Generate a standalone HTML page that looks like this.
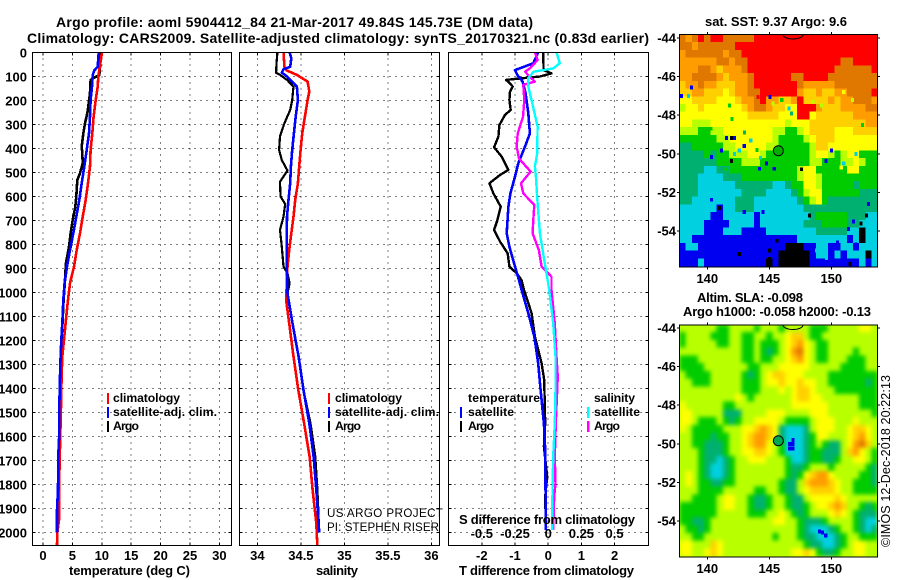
<!DOCTYPE html>
<html>
<head>
<meta charset="utf-8">
<title>Argo profile</title>
<style>
html,body{margin:0;padding:0;background:#fff;}
svg{display:block;}
text{font-family:"Liberation Sans",sans-serif;font-weight:bold;font-size:13px;fill:#000;}
.leg{font-size:12.2px;}
.reg{font-weight:normal;font-size:11.6px;}
</style>
</head>
<body>
<svg id="figure" xmlns="http://www.w3.org/2000/svg" width="900" height="580" viewBox="0 0 900 580">
<defs>
<filter id="sla-smooth" filterUnits="userSpaceOnUse" x="660" y="300" width="240" height="280" color-interpolation-filters="sRGB"><feGaussianBlur stdDeviation="2"/></filter>
</defs>
<rect x="0" y="0" width="900" height="580" fill="#fff"/>
<g id="layer-plots"></g>
<text x="56" y="27" textLength="477" lengthAdjust="spacing" style="font-size:14px">Argo profile: aoml 5904412_84 21-Mar-2017 49.84S 145.73E (DM data)</text>
<text x="27" y="43" textLength="622" lengthAdjust="spacing" style="font-size:14px">Climatology: CARS2009. Satellite-adjusted climatology: synTS_20170321.nc (0.83d earlier)</text>
<text x="69" y="575" textLength="121" lengthAdjust="spacing">temperature (deg C)</text>
<text x="316" y="575" textLength="42" lengthAdjust="spacing">salinity</text>
<text x="459" y="575" textLength="175" lengthAdjust="spacing">T difference from climatology</text>
<text x="459" y="524" textLength="176" lengthAdjust="spacing">S difference from climatology</text>
<g>
<rect x="107" y="393" width="2" height="11" fill="#ff0000"/>
<rect x="107" y="407" width="2" height="11" fill="#0000ff"/>
<rect x="107" y="421" width="2" height="11" fill="#000"/>
<text class="leg" x="113" y="402" textLength="67" lengthAdjust="spacing">climatology</text>
<text class="leg" x="113" y="416" textLength="104" lengthAdjust="spacing">satellite-adj. clim.</text>
<text class="leg" x="113" y="430" textLength="26" lengthAdjust="spacing">Argo</text>
</g>
<g>
<rect x="328" y="393" width="2" height="11" fill="#ff0000"/>
<rect x="328" y="407" width="2" height="11" fill="#0000ff"/>
<rect x="328" y="421" width="2" height="11" fill="#000"/>
<text class="leg" x="335" y="402" textLength="67" lengthAdjust="spacing">climatology</text>
<text class="leg" x="335" y="416" textLength="104" lengthAdjust="spacing">satellite-adj. clim.</text>
<text class="leg" x="335" y="430" textLength="26" lengthAdjust="spacing">Argo</text>
</g>
<g>
<text class="leg" x="468" y="402" textLength="72" lengthAdjust="spacing">temperature</text>
<rect x="460" y="407" width="2" height="11" fill="#0000ff"/>
<text class="leg" x="468" y="416" textLength="46" lengthAdjust="spacing">satellite</text>
<rect x="460" y="421" width="2" height="11" fill="#000"/>
<text class="leg" x="468" y="430" textLength="26" lengthAdjust="spacing">Argo</text>
<text class="leg" x="594" y="402" textLength="41" lengthAdjust="spacing">salinity</text>
<rect x="587" y="407" width="2.5" height="11" fill="#00ffff"/>
<text class="leg" x="594" y="416" textLength="46" lengthAdjust="spacing">satellite</text>
<rect x="587" y="421" width="2.5" height="11" fill="#ff00ff"/>
<text class="leg" x="594" y="430" textLength="26" lengthAdjust="spacing">Argo</text>
</g>
<text class="reg" x="327" y="517" textLength="116" lengthAdjust="spacing">US ARGO PROJECT</text>
<text class="reg" x="327" y="531" textLength="112" lengthAdjust="spacing">PI: STEPHEN RISER</text>
<text x="705" y="26" textLength="142" lengthAdjust="spacing">sat. SST: 9.37 Argo: 9.6</text>
<text x="697" y="302" textLength="106" lengthAdjust="spacing">Altim. SLA: -0.098</text>
<text x="683" y="316" textLength="188" lengthAdjust="spacing">Argo h1000: -0.058 h2000: -0.13</text>
<text class="reg" transform="translate(890 547) rotate(-90)" x="0" y="0" textLength="172" lengthAdjust="spacing" style="font-size:12.5px">©IMOS 12-Dec-2018 20:22:13</text>
</svg>
<script>
// ---------- profile data ----------
const depthTicks = [0,100,200,300,400,500,600,700,800,900,1000,1100,1200,1300,1400,1500,1600,1700,1800,1900,2000];
const tempTicks = [0,5,10,15,20,25,30];
const salTicks = [34,34.5,35,35.5,36];
const salTickLabels = ['34','34.5','35','35.5','36'];
const diffTicks = [-2,-1,0,1,2];
const sDiffTicks = [-0.5,-0.25,0,0.25,0.5];
const sDiffLabels = ['-0.5','-0.25','0','0.25','0.5'];

const tempArgoDepth = [0,60,95,104,115,170,212,254,296,338,393,421,462,504,532,601,643,699,754,810,879,962,1032,1129,1198,1268,1351,1476,1587,1677,1823,1907,2000];
const tempArgo = [9.86,9.7,9.58,8.84,8.1,8.0,7.77,7.54,7.14,6.86,6.58,6.69,6.75,6.29,5.84,5.67,5.5,5.05,4.7,4.42,3.9,3.7,3.5,3.32,3.15,3.05,2.95,2.85,2.8,2.72,2.65,2.45,2.42];
const tempSatDepth = [0,60,76,95,143,199,268,338,407,476,546,615,685,754,824,893,962,1032,1129,1198,1268,1351,1476,1587,1677,1823,1907,2001];
const tempSat = [9.47,9.3,8.73,8.45,8.33,8.1,8.0,7.82,7.43,7.03,6.58,6.18,5.67,5.16,4.59,4.08,3.68,3.46,3.29,3.12,3.0,2.89,2.78,2.78,2.6,2.55,2.38,2.38];
const tempClimDepth = [0,101,143,199,268,338,407,476,546,615,685,754,824,893,962,1032,1059,1129,1198,1268,1351,1476,1642,1823,1948,2003,2052];
const tempClim = [10.03,9.41,9.3,8.96,8.6,8.39,8.1,8.0,7.65,7.26,6.75,6.29,5.73,5.27,4.6,4.25,4.14,3.85,3.57,3.29,3.17,3.06,2.89,2.72,2.72,2.44,2.38];

const salArgoDepth = [0,46,85,94,115,143,199,240,296,351,407,449,493,539,601,632,685,740,810,893,921,962,1004,1129,1268,1407,1546,1684,1823,1907,2000];
const salArgo = [34.23,34.22,34.215,34.26,34.34,34.415,34.4,34.377,34.31,34.26,34.25,34.28,34.346,34.26,34.265,34.32,34.3,34.26,34.28,34.3,34.346,34.37,34.346,34.404,34.473,34.53,34.61,34.665,34.69,34.7,34.71];
const salSatDepth = [0,25,60,71,85,101,143,199,268,338,407,476,546,615,685,754,893,1004,1129,1268,1407,1546,1684,1823,2000];
const salSat = [34.37,34.39,34.377,34.3,34.28,34.34,34.454,34.465,34.44,34.42,34.4,34.385,34.377,34.358,34.34,34.338,34.338,34.346,34.404,34.473,34.53,34.596,34.646,34.677,34.71];
const salClimDepth = [0,60,76,94,122,163,199,268,338,407,476,546,615,685,754,824,893,962,1032,1129,1268,1407,1546,1684,1823,1962,2052];
const salClim = [34.3,34.31,34.338,34.454,34.577,34.596,34.577,34.546,34.515,34.496,34.48,34.465,34.435,34.415,34.39,34.365,34.346,34.338,34.33,34.365,34.415,34.47,34.537,34.6,34.635,34.677,34.688];

const tDiffArgoDepth = [0,74,88,101,115,129,143,164,199,240,261,303,351,396,435,490,511,546,588,643,699,740,789,838,893,921,949,990,1087,1184,1296,1365,1546,1643,1768,1851,1990];
const tDiffArgo = [-0.15,-0.14,0.1,-0.25,-1.27,-1.15,-1.07,-1.15,-1.17,-1.13,-1.3,-1.47,-1.5,-1.63,-1.4,-1.2,-1.45,-1.77,-1.65,-1.43,-1.53,-1.63,-1.45,-1.22,-1.17,-0.95,-0.8,-0.73,-0.5,-0.4,-0.2,-0.12,-0.09,-0.13,-0.03,-0.09,-0.07];
const tDiffSatDepth = [0,46,74,94,122,171,254,338,393,463,518,588,643,754,810,893,949,990,1087,1184,1296,1407,1546,1657,1990];
const tDiffSat = [-0.3,-0.45,-1.0,-0.93,-0.77,-0.68,-0.6,-0.55,-0.7,-0.9,-1.0,-1.14,-1.2,-1.25,-1.17,-1.0,-0.88,-0.8,-0.6,-0.42,-0.3,-0.23,-0.13,-0.09,-0.07];
const sDiffSatDepth = [0,46,67,81,108,143,213,310,421,476,518,629,754,865,963,990,1129,1268,1407,1546,1684,1823,1990];
const sDiffSat = [0.0625,0.0875,0.0375,-0.11,-0.15,-0.15,-0.12,-0.08,-0.0825,-0.1,-0.0925,-0.08,-0.0625,-0.03,0,0.0075,0.0375,0.055,0.055,0.05,0.0375,0.0325,0.03];
const sDiffArgoDepth = [0,32,67,81,101,122,136,199,269,338,393,443,497,546,588,636,699,754,825,893,935,990,1129,1268,1351,1546,1684,1796,1851,1990];
const sDiffArgo = [-0.1,-0.08,-0.1375,-0.175,-0.14,-0.1,-0.1875,-0.18,-0.19,-0.23,-0.2375,-0.22,-0.1325,-0.205,-0.1875,-0.105,-0.1125,-0.1175,-0.07,-0.05,0.025,0.025,0.05,0.0625,0.0725,0.0575,0.05,0.055,0.045,0.0375];

// ---------- map data (colour class per cell: 0 black ... 10 red) ----------
const mapLonTicks = [140,145,150];
const mapLatTicks = [-44,-46,-48,-50,-52,-54];
const argoLon = [145.73];
const argoLat = [-49.84];
const sstGrid = [
[9,8,9,10,9,10,10,9,9,9,9,9,10,10,10,10,10,10,10,10,10,10,10,10,10,10,10,10,10,10,10,10],
[9,9,8,9,9,9,9,9,9,10,10,10,10,10,10,10,10,10,10,10,10,10,10,10,10,10,10,10,10,10,10,10],
[8,9,9,9,9,9,9,8,9,9,10,10,10,10,10,10,10,10,10,10,10,10,10,10,10,10,10,10,10,10,10,10],
[8,8,8,8,8,8,9,9,8,9,9,10,10,10,10,10,10,10,10,10,10,10,10,10,10,10,9,9,10,10,10,10],
[8,8,8,9,9,8,7,8,8,8,9,10,10,10,10,10,10,10,10,10,10,10,10,10,10,9,9,9,9,9,9,10],
[8,8,9,9,9,9,8,7,8,8,8,9,10,10,10,10,10,10,9,9,10,10,10,10,9,9,9,9,9,9,9,9],
[7,8,8,9,8,8,7,7,7,8,8,9,10,10,10,10,10,10,10,9,8,8,8,8,8,9,9,9,9,9,9,9],
[7,7,8,8,7,7,7,6,7,8,8,9,9,10,10,10,10,10,10,8,7,7,8,7,7,8,8,9,9,9,9,10],
[6,6,7,7,7,7,6,6,6,7,8,8,9,10,8,8,7,7,8,10,7,7,7,7,8,7,8,8,9,9,9,8],
[5,6,6,7,6,6,6,6,6,6,7,8,9,9,8,7,7,6,6,10,10,10,8,7,7,7,8,8,8,8,9,9],
[6,6,6,6,6,6,6,6,6,6,6,7,7,7,7,7,6,6,6,10,10,6,7,7,7,7,7,7,8,8,8,8],
[6,6,5,5,5,6,6,6,6,6,6,6,6,6,6,6,6,5,6,6,6,7,7,7,7,7,7,7,7,7,8,8],
[5,5,5,4,4,5,5,6,6,6,6,6,6,6,6,5,5,4,4,5,6,7,7,7,7,6,6,6,7,7,7,7],
[4,4,4,4,4,4,5,5,6,6,6,6,6,6,6,5,4,4,4,4,5,6,7,7,7,6,6,6,6,6,6,6],
[3,3,4,4,4,4,4,5,5,6,6,6,6,6,5,5,4,4,4,4,4,5,7,7,6,6,6,6,6,6,6,6],
[3,3,3,3,4,3,4,4,5,5,5,6,6,5,4,4,4,4,4,4,4,5,6,6,5,4,5,6,6,4,4,4],
[3,3,3,3,3,3,4,4,4,4,5,5,5,4,4,4,4,4,4,4,4,5,5,4,4,4,5,5,6,5,4,4],
[3,3,3,3,2,2,3,3,4,4,4,4,4,4,4,4,4,4,4,5,6,6,4,4,4,4,4,6,6,4,4,4],
[3,3,3,2,2,2,2,3,3,3,4,4,4,4,4,4,4,4,4,5,6,6,5,4,4,4,4,4,4,4,4,4],
[3,3,3,2,2,2,2,2,2,3,3,3,3,3,3,2,2,3,4,4,6,6,5,4,4,4,4,4,3,4,4,4],
[3,3,3,2,2,2,2,2,2,2,3,3,3,3,2,2,2,2,3,4,5,6,6,4,4,4,4,4,4,3,3,3],
[3,3,2,2,2,2,2,2,2,3,3,3,2,2,2,2,2,2,2,3,4,5,6,4,3,3,3,3,3,3,3,3],
[2,2,2,2,2,2,1,2,2,3,3,3,2,2,2,2,2,2,2,2,3,3,3,3,3,3,3,3,3,3,3,3],
[2,2,2,2,2,1,1,2,2,2,2,2,1,2,2,2,2,2,2,2,2,3,4,4,4,4,4,3,3,3,2,2],
[2,2,2,2,1,1,1,1,2,2,2,2,1,2,2,2,2,2,2,2,3,3,3,4,4,4,4,3,3,2,2,2],
[2,2,2,2,1,1,1,2,2,2,1,1,1,1,2,2,2,2,2,2,2,2,3,3,3,3,3,2,2,0,2,2],
[2,2,1,1,1,1,1,1,1,1,1,1,1,1,1,1,1,1,1,2,2,2,2,2,2,2,2,1,2,0,2,2],
[1,2,2,1,1,1,1,1,1,1,1,1,1,1,1,1,1,0,0,0,1,1,2,2,1,1,2,2,1,2,2,2],
[1,1,1,1,1,1,1,1,1,1,1,1,1,1,1,1,0,0,0,0,0,1,2,2,1,2,1,2,2,2,0,2],
[1,1,1,2,1,1,1,1,1,1,1,1,1,1,0,1,0,0,0,0,0,1,1,1,1,1,1,1,1,2,1,2]
];
const sstSpeckleLon = [141.96,142.2,141.56,141.16,140.35,141.96,142.58,142.98,144.2,145.4,144.78,147.6,150.03,149.57,138.74,137.93,138.47,145.05,140.97,140.35,144.5,142.98,148.23,152.85,152.39,142.58,145,145,145.6,146.6,144.1,144.5,139.5,140.3,142,141.8,143,143.5,144,144.3,142.2,141.5,146.8,145.3,146,148.5,149.2,151,151.7,152.5,152,151,150.8,153,151.8,151.4,149,150.5,148.8,152,149.6,139.8,151.5];
const sstSpeckleLat = [-49.18,-49.18,-49.18,-49.82,-50.16,-50.37,-49.82,-49.6,-50.77,-50.77,-50.5,-50.8,-49.82,-50.37,-46.56,-47,-47,-47.05,-52.8,-52.38,-53.02,-53.02,-53.2,-53.2,-53.6,-55.19,-55,-55.45,-54.5,-47.65,-47.05,-47.1,-49,-48.7,-48.2,-47.5,-48.9,-49.3,-49.8,-50.2,-50,-50.8,-47.9,-47.4,-47.2,-47.3,-47.5,-46.8,-47.2,-48.5,-50,-50.5,-50.7,-52.6,-53.5,-53.9,-53.8,-54.6,-55,-54.7,-55.4,-55.2,-55.7];
const sstSpeckleClass = [0,1,1,1,1,0,2,1,1,1,1,0,1,1,1,1,2,1,0,1,1,1,0,0,0,0,0,0,0,2,10,10,4,4,4,4,3,2,4,2,2,4,3,5,4,5,5,6,5,4,2,2,6,1,1,1,3,1,2,1,2,1,0];
const slaGrid = [
[5,5,5,5,5,5,4,4,5,5,5,5,4,5,5,5,4,5,5,5,5,4,4,4,5,5,5,5,5,6,6,5],
[4,5,5,5,5,4,4,4,5,5,4,4,5,5,4,5,5,6,7,7,5,4,4,5,5,5,5,5,5,5,5,5],
[4,5,5,5,5,5,4,4,5,5,4,4,5,4,4,4,5,6,7,8,6,5,4,4,5,5,5,5,5,5,5,5],
[5,5,5,5,5,5,5,5,5,5,4,4,5,4,3,4,5,6,8,9,6,5,4,4,5,5,5,5,4,5,5,5],
[4,4,4,5,5,5,5,5,5,5,4,4,5,4,4,5,5,6,7,8,6,5,4,4,5,5,5,4,4,4,5,5],
[4,4,4,4,5,5,5,5,5,5,5,4,4,5,5,5,6,6,6,6,6,5,5,5,5,5,4,4,4,4,5,5],
[5,4,4,4,4,5,5,5,5,5,4,3,4,5,6,7,7,6,6,6,5,5,5,5,4,4,4,4,4,4,4,4],
[5,5,4,4,4,5,5,5,5,5,4,4,4,5,6,6,7,6,6,7,6,6,5,5,4,4,4,4,4,4,3,4],
[5,5,5,5,5,5,5,5,5,5,4,4,4,5,5,5,6,5,6,7,7,6,5,5,5,4,4,4,4,4,4,4],
[5,5,5,5,5,5,5,5,5,6,5,4,5,5,5,5,5,5,6,7,7,6,6,5,5,5,5,5,5,4,4,4],
[6,5,5,5,5,5,5,4,4,5,5,5,5,5,5,5,5,5,6,6,6,6,6,6,5,5,5,5,5,4,4,4],
[6,6,5,5,5,5,5,3,3,3,5,5,5,5,6,6,6,5,5,5,5,6,6,6,5,5,5,5,5,5,5,4],
[6,6,5,4,4,4,5,4,3,4,5,5,6,6,6,6,5,4,4,4,4,5,6,6,6,5,5,5,6,5,5,5],
[6,5,4,4,4,4,4,5,5,5,6,6,7,8,7,6,3,2,2,2,3,5,6,6,6,5,5,6,7,7,6,5],
[5,5,4,4,4,3,4,4,5,5,6,7,8,8,7,6,3,2,2,2,3,4,6,6,5,5,5,6,7,8,6,5],
[5,5,4,4,3,3,3,4,5,5,6,7,8,8,6,5,4,2,2,2,3,4,5,4,3,3,5,6,8,9,7,5],
[5,5,5,4,3,3,3,4,5,5,6,6,7,7,6,5,4,2,2,2,3,4,4,3,3,3,5,7,8,6,5,4],
[5,5,5,4,3,3,2,3,4,5,5,6,6,6,5,5,5,4,2,2,3,4,4,3,3,4,5,5,6,6,5,4],
[5,5,5,4,3,2,2,3,4,5,5,5,5,5,5,5,5,4,3,3,4,5,5,5,4,5,5,5,5,5,4,3],
[5,6,5,4,3,2,2,3,4,5,5,5,5,5,5,5,5,4,3,4,6,7,8,8,6,5,5,5,5,4,4,3],
[5,6,5,4,4,3,3,4,4,5,5,5,5,5,5,5,4,3,3,5,7,8,8,8,7,6,5,5,4,4,4,3],
[5,5,5,4,4,4,4,5,5,5,5,5,4,4,5,5,4,3,3,5,6,7,7,7,7,6,5,5,4,4,4,4],
[5,5,4,4,4,4,5,6,6,5,5,4,3,3,4,5,5,4,3,3,5,6,6,6,6,7,6,5,5,5,5,5],
[4,4,4,4,4,4,5,6,6,5,5,4,3,3,4,5,5,4,3,3,4,5,6,6,7,8,7,5,5,4,3,4],
[4,4,4,4,4,4,5,5,5,5,5,4,4,4,5,5,6,5,4,3,4,5,5,5,6,7,6,5,4,3,3,3],
[4,4,3,3,4,5,5,5,5,5,5,5,5,5,5,6,6,5,5,4,3,3,3,4,5,5,5,5,4,3,2,2],
[5,4,4,3,4,5,5,5,5,5,5,5,5,5,5,5,5,5,5,4,3,2,2,2,3,4,5,5,4,3,2,3],
[5,5,4,4,5,5,5,5,5,5,5,5,5,5,5,4,5,5,5,4,3,3,2,2,2,3,4,5,5,4,4,4],
[6,6,5,5,5,7,6,5,5,5,5,5,5,5,5,5,5,5,5,5,4,3,3,2,2,3,4,5,6,6,5,5],
[6,6,5,5,6,7,6,5,5,5,5,5,5,5,5,5,5,5,6,6,7,6,4,3,3,4,5,5,6,6,5,5]
];
const slaSpeckleLon = [146.9,146.65,146.9,146.65,146.9,149.05,149.3,149.55];
const slaSpeckleLat = [-49.8,-50.0,-50.0,-50.25,-50.25,-54.55,-54.6,-54.75];
const slaSpeckleClass = [1,1,1,1,1,1,1,1];
const mapPalette = ['#000000','#0000f0','#00d0e0','#00b070','#00cc00','#b8ff00','#ffff00','#ffd000','#ff9c00','#e07800','#ff0000'];

// ---------- drawing ----------
const NS = 'http://www.w3.org/2000/svg';
const root = document.getElementById('layer-plots');
function mk(tag, parent, name) {
  const el = document.createElementNS(NS, tag);
  
  
  parent.appendChild(el);
  return el;
}
function attrs(el, o) { for (const k in o) el.setAttribute(k, o[k]); return el; }
function label(parent, name, x, y, anchor, str) {
  const t = mk('text', parent, name);
  attrs(t, {x: x, y: y, 'text-anchor': anchor});
  t.textContent = str;
  return t;
}
const plotTop = 52.3, plotBottom = 545.5;
function yDepth(d) { return 52.3 + d * 0.24; }
function xTemp(v) { return 43 + v * 5.88; }
function xSal(v) { return 257.4 + (v - 34) * 87; }
function xDiffT(v) { return 548.2 + v * 33.2; }
function xDiffS(v) { return xDiffT(v * 4); }

function drawPanel(name, left, right, ticks, xf, labels, showDepthLabels) {
  const g = mk('g', root, name);
  depthTicks.forEach(function (d) {
    if (d === 0) return;
    const ln = mk('line', g, 'depth-gridline');
    attrs(ln, {x1: left, x2: right, y1: yDepth(d), y2: yDepth(d), stroke: '#000', 'stroke-width': 1, 'stroke-dasharray': '1 5', 'shape-rendering': 'crispEdges'});
    const lt = mk('line', g, 'depth-tick');
    attrs(lt, {x1: left, x2: left + 3, y1: yDepth(d), y2: yDepth(d), stroke: '#000', 'shape-rendering': 'crispEdges'});
    const rt = mk('line', g, 'depth-tick');
    attrs(rt, {x1: right - 3, x2: right, y1: yDepth(d), y2: yDepth(d), stroke: '#000', 'shape-rendering': 'crispEdges'});
  });
  if (showDepthLabels) {
    depthTicks.forEach(function (d) {
      label(g, 'depth-tick-label', 27, yDepth(d) + 5, 'end', String(d));
    });
  }
  ticks.forEach(function (v, i) {
    const x = xf(v);
    const ln = mk('line', g, 'x-gridline');
    attrs(ln, {x1: x, x2: x, y1: plotTop, y2: plotBottom, stroke: '#000', 'stroke-width': 1, 'stroke-dasharray': '1 5', 'shape-rendering': 'crispEdges'});
    const tb = mk('line', g, 'x-tick');
    attrs(tb, {x1: x, x2: x, y1: plotBottom - 3, y2: plotBottom, stroke: '#000', 'shape-rendering': 'crispEdges'});
    const tt = mk('line', g, 'x-tick');
    attrs(tt, {x1: x, x2: x, y1: plotTop, y2: plotTop + 3, stroke: '#000', 'shape-rendering': 'crispEdges'});
    label(g, 'x-tick-label', x, 560, 'middle', labels[i]);
  });
  return g;
}
function drawLine(g, name, xf, depths, values, color, w) {
  const pts = depths.map(function (d, i) { return xf(values[i]).toFixed(1) + ',' + yDepth(d).toFixed(1); }).join(' ');
  const p = mk('polyline', g, name);
  attrs(p, {points: pts, fill: 'none', stroke: color, 'stroke-width': w, 'stroke-linejoin': 'round', 'shape-rendering': 'crispEdges'});
}
function drawFrame(g, name, left, top, right, bottom) {
  const r = mk('rect', g, name);
  attrs(r, {x: left, y: top, width: right - left, height: bottom - top, fill: 'none', stroke: '#000', 'stroke-width': 1, 'shape-rendering': 'crispEdges'});
}

const p1 = drawPanel('temperature-panel', 32.5, 231.5, tempTicks, xTemp, tempTicks.map(String), true);
drawLine(p1, 'temperature-argo-line', xTemp, tempArgoDepth, tempArgo, '#000', 2.6);
drawLine(p1, 'temperature-climatology-line', xTemp, tempClimDepth, tempClim, '#ff0000', 2.6);
drawLine(p1, 'temperature-satellite-line', xTemp, tempSatDepth, tempSat, '#0000ff', 2.6);
drawFrame(p1, 'temperature-panel-frame', 32.5, 52.5, 231.5, 545.5);

const p2 = drawPanel('salinity-panel', 239.5, 439.5, salTicks, xSal, salTickLabels, false);
drawLine(p2, 'salinity-argo-line', xSal, salArgoDepth, salArgo, '#000', 2.2);
drawLine(p2, 'salinity-climatology-line', xSal, salClimDepth, salClim, '#ff0000', 2.6);
drawLine(p2, 'salinity-satellite-line', xSal, salSatDepth, salSat, '#0000ff', 2.6);
drawFrame(p2, 'salinity-panel-frame', 239.5, 52.5, 439.5, 545.5);

const p3 = drawPanel('difference-panel', 448.5, 648.5, diffTicks, xDiffT, diffTicks.map(String), false);
sDiffTicks.forEach(function (v, i) {
  label(p3, 's-difference-tick-label', xDiffS(v), 538, 'middle', sDiffLabels[i]);
});
drawLine(p3, 't-difference-argo-line', xDiffT, tDiffArgoDepth, tDiffArgo, '#000', 2.4);
drawLine(p3, 't-difference-satellite-line', xDiffT, tDiffSatDepth, tDiffSat, '#0000ff', 2.6);
drawLine(p3, 's-difference-argo-line', xDiffS, sDiffArgoDepth, sDiffArgo, '#ff00ff', 2.4);
drawLine(p3, 's-difference-satellite-line', xDiffS, sDiffSatDepth, sDiffSat, '#00ffff', 2.4);
drawFrame(p3, 'difference-panel-frame', 448.5, 52.5, 648.5, 545.5);

function drawMap(name, grid, lat44Y, top, bottom, lonLabelY, circleFill, speckLon, speckLat, speckClass, smooth) {
  const left = 679.5, right = 877.5;
  const xLon = function (lon) { return 707.3 + (lon - 140) * 12.4; };
  const yLat = function (lat) { return lat44Y + (-44 - lat) * 19.3; };
  const g = mk('g', root, name);
  const clipId = name + '-clip';
  const defs = mk('defs', g, 'map-defs');
  const clip = mk('clipPath', defs, 'map-clip');
  clip.setAttribute('id', clipId);
  const cr = mk('rect', clip, 'map-clip-rect');
  attrs(cr, {x: left, y: top, width: right - left, height: bottom - top});
  const field = mk('g', g, 'map-field');
  field.setAttribute('clip-path', 'url(#' + clipId + ')');
  const backdrop = mk('rect', field, 'map-backdrop');
  attrs(backdrop, {x: left, y: top, width: right - left, height: bottom - top, fill: mapPalette[5]});
  const cells = mk('g', field, 'map-cells');
  if (smooth) cells.setAttribute('filter', 'url(#sla-smooth)');
  const lon0 = 137.75, dLon = 0.5, lat0 = -43.82, dLat = 0.4;
  grid.forEach(function (row, r) {
    row.forEach(function (v, c) {
      const cell = mk('rect', cells, 'map-cell');
      const x0 = xLon(lon0 + c * dLon), x1 = xLon(lon0 + (c + 1) * dLon);
      const y0 = yLat(lat0 - r * dLat), y1 = yLat(lat0 - (r + 1) * dLat);
      attrs(cell, {x: x0, y: y0, width: x1 - x0 + 0.4, height: y1 - y0 + 0.4, fill: mapPalette[v], 'shape-rendering': 'crispEdges'});
    });
  });
  speckLon.forEach(function (lon, i) {
    const s = mk('rect', field, 'map-speckle');
    attrs(s, {x: xLon(lon) - 1.55, y: yLat(speckLat[i]) - 1.9, width: 3.1, height: 3.9, fill: mapPalette[speckClass[i]], 'shape-rendering': 'crispEdges'});
  });
  const arc = mk('ellipse', field, 'neighbour-profile-marker');
  attrs(arc, {cx: 793, cy: top, rx: 10, ry: 4.5, fill: 'none', stroke: '#000', 'stroke-width': 1});
  const m = mk('circle', g, 'argo-position-marker');
  attrs(m, {cx: xLon(argoLon[0]), cy: yLat(argoLat[0]), r: 5, fill: circleFill, stroke: '#000', 'stroke-width': 1});
  drawFrame(g, 'map-frame', left, top, right, bottom);
  mapLonTicks.forEach(function (lon) {
    const x = xLon(lon);
    const t1 = mk('line', g, 'lon-tick');
    attrs(t1, {x1: x, x2: x, y1: bottom, y2: bottom + 2.5, stroke: '#000', 'shape-rendering': 'crispEdges'});
    const t2 = mk('line', g, 'lon-tick');
    attrs(t2, {x1: x, x2: x, y1: top - 2.5, y2: top, stroke: '#000', 'shape-rendering': 'crispEdges'});
    label(g, 'lon-tick-label', x, lonLabelY, 'middle', String(lon));
  });
  mapLatTicks.forEach(function (lat) {
    const y = yLat(lat);
    const t1 = mk('line', g, 'lat-tick');
    attrs(t1, {x1: left - 2.5, x2: left, y1: y, y2: y, stroke: '#000', 'shape-rendering': 'crispEdges'});
    const t2 = mk('line', g, 'lat-tick');
    attrs(t2, {x1: right, x2: right + 2.5, y1: y, y2: y, stroke: '#000', 'shape-rendering': 'crispEdges'});
    label(g, 'lat-tick-label', 676, y + 4.5, 'end', String(lat));
  });
}
drawMap('sst-map', sstGrid, 38, 34.5, 267, 283, '#00b000', sstSpeckleLon, sstSpeckleLat, sstSpeckleClass, false);
drawMap('sla-map', slaGrid, 328, 325, 557, 573, '#00a850', slaSpeckleLon, slaSpeckleLat, slaSpeckleClass, true);
</script>
</body>
</html>
